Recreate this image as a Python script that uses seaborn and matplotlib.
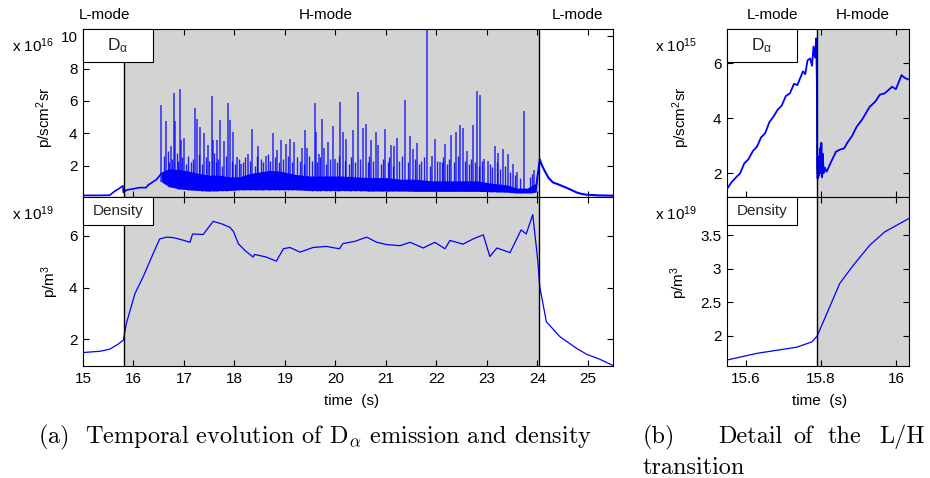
import numpy as np
import pandas as pd
import matplotlib
matplotlib.use("Agg")
import matplotlib.pyplot as plt
from matplotlib.patches import Rectangle
import seaborn as sns

# ---------------- data ----------------
# Transition times (s)
t_LH = 15.81
t_HL = 24.04
t_LH_zoom = 15.789

# (a) D-alpha, x1e16 p/scm^2sr : L-mode and early H-mode trace
pre_t = [15.00, 15.30, 15.53, 15.63, 15.72, 15.79, 15.80, 15.86, 16.00, 16.12, 16.25, 16.29, 16.46, 16.55]
pre_v = [0.15, 0.15, 0.16, 0.41, 0.58, 0.74, 0.33, 0.48, 0.56, 0.63, 0.63, 0.79, 1.14, 1.50]

# dense ELM activity envelope
band_t = [16.55, 16.70, 16.90, 17.10, 17.30, 17.50, 17.70, 17.90, 18.10, 18.30, 18.50, 18.70, 18.90,
          19.20, 19.50, 19.80, 20.10, 20.40, 20.70, 21.00, 21.30, 21.60, 21.90, 22.20, 22.50, 22.80,
          23.10, 23.40, 23.60, 23.80, 23.97]
band_lo = [1.00, 0.70, 0.55, 0.50, 0.45, 0.42, 0.45, 0.45, 0.50, 0.50, 0.50, 0.50, 0.50,
           0.50, 0.45, 0.45, 0.45, 0.45, 0.42, 0.42, 0.42, 0.40, 0.40, 0.40, 0.40, 0.40,
           0.38, 0.35, 0.30, 0.30, 0.35]
band_hi = [1.60, 1.80, 1.75, 1.65, 1.50, 1.40, 1.40, 1.30, 1.30, 1.50, 1.60, 1.70, 1.65,
           1.45, 1.35, 1.35, 1.35, 1.30, 1.25, 1.25, 1.15, 1.15, 1.05, 1.05, 1.05, 1.05,
           0.90, 0.80, 0.60, 0.60, 0.90]

# large ELM spikes (time, peak)
elm_t = [16.54, 16.64, 16.74, 16.80, 16.82, 16.92, 16.94, 17.00, 17.21, 17.26, 17.32, 17.40, 17.47,
         17.55, 17.57, 17.66, 17.71, 17.79, 17.87, 17.91, 17.97, 18.05, 18.13, 18.27, 18.35, 18.47,
         18.62, 18.76, 18.84, 18.93, 19.03, 19.11, 19.19, 19.34, 19.40, 19.44, 19.59, 19.61, 19.67,
         19.73, 19.78, 19.85, 19.96, 20.00, 20.10, 20.15, 20.22, 20.35, 20.44, 20.55, 20.60, 20.70,
         20.80, 20.85, 20.99, 21.10, 21.17, 21.23, 21.38, 21.48, 21.53, 21.61, 21.82, 21.92, 21.97,
         22.07, 22.17, 22.30, 22.39, 22.47, 22.52, 22.60, 22.72, 22.80, 22.87, 22.95, 23.02, 23.16,
         23.23, 23.33, 23.42, 23.51, 23.60, 23.74, 23.93]
elm_v = [5.77, 4.74, 3.19, 6.49, 4.74, 6.75, 3.60, 3.70, 5.56, 4.90, 4.39, 4.00, 3.30,
         6.32, 3.60, 3.60, 4.84, 3.50, 5.87, 4.84, 4.10, 2.50, 2.10, 2.70, 4.26, 3.19,
         2.60, 4.02, 2.95, 3.55, 3.36, 3.65, 3.45, 3.10, 4.18, 3.10, 5.87, 4.06, 2.70,
         4.90, 3.10, 3.45, 4.47, 2.40, 5.95, 4.10, 3.65, 4.18, 6.55, 4.30, 4.59, 3.55,
         4.10, 3.30, 4.26, 3.30, 3.20, 3.70, 6.07, 3.85, 3.00, 3.40, 10.40, 2.60, 3.65,
         2.20, 3.36, 3.90, 4.08, 4.53, 4.30, 2.90, 4.53, 6.59, 6.38, 2.40, 2.30, 3.19,
         2.80, 3.00, 2.70, 2.10, 1.60, 5.35, 1.70]

# smaller ELM spikes (time, peak)
small_t = [16.60, 16.68, 16.71, 16.77, 16.86, 16.89, 16.97, 17.04, 17.08, 17.13, 17.17, 17.29, 17.36,
           17.44, 17.50, 17.60, 17.63, 17.68, 17.75, 17.83, 17.95, 18.01, 18.09, 18.17, 18.21, 18.31,
           18.40, 18.44, 18.52, 18.57, 18.67, 18.71, 18.80, 18.89, 18.97, 19.07, 19.15, 19.24, 19.29,
           19.37, 19.48, 19.53, 19.64, 19.70, 19.82, 19.89, 20.04, 20.07, 20.19, 20.27, 20.31, 20.39,
           20.49, 20.64, 20.67, 20.75, 20.90, 20.94, 21.04, 21.07, 21.14, 21.27, 21.31, 21.43, 21.57,
           21.66, 21.70, 21.75, 21.87, 22.02, 22.11, 22.13, 22.22, 22.26, 22.35, 22.43, 22.56, 22.64,
           22.68, 22.76, 22.84, 22.91, 23.06, 23.11, 23.20, 23.27, 23.37, 23.46, 23.55, 23.66, 23.85, 23.89]
small_v = [2.6, 2.9, 2.2, 2.4, 2.8, 2.3, 2.5, 2.1, 2.6, 2.2, 2.4, 2.7, 2.1,
           2.5, 2.3, 2.8, 2.2, 2.4, 2.0, 2.6, 2.3, 2.1, 2.4, 2.2, 2.5, 2.3,
           2.0, 2.6, 2.4, 2.2, 2.7, 2.3, 2.5, 2.2, 2.4, 2.6, 2.2, 2.5, 2.3,
           2.1, 2.6, 2.3, 2.2, 2.5, 2.1, 2.4, 2.2, 2.6, 2.3, 2.1, 2.5, 2.2,
           2.4, 2.2, 2.6, 2.3, 2.1, 2.4, 2.2, 2.5, 2.0, 2.3, 2.6, 2.2, 2.4,
           2.1, 2.3, 2.5, 2.0, 2.3, 2.2, 2.5, 2.1, 2.4, 2.2, 2.6, 2.3, 2.1,
           2.4, 2.2, 2.0, 2.3, 2.1, 1.9, 2.2, 1.8, 2.0, 1.6, 1.4, 1.2, 1.3, 1.5]

# back-transition and L-mode decay
post_t = [23.97, 24.00, 24.05, 24.10, 24.15, 24.22, 24.31, 24.40, 24.50, 24.58, 24.68, 24.78, 24.88, 24.98, 25.20, 25.50]
post_v = [0.40, 1.20, 2.37, 1.95, 1.65, 1.25, 0.95, 0.85, 0.72, 0.62, 0.48, 0.33, 0.24, 0.19, 0.15, 0.13]

# (a) density, x1e19 p/m^3
dens_t = [15.00, 15.34, 15.53, 15.70, 15.80, 15.86, 16.03, 16.19, 16.36, 16.52, 16.66, 16.79, 16.95,
          17.12, 17.17, 17.38, 17.58, 17.75, 17.91, 17.98, 18.08, 18.21, 18.37, 18.40, 18.63, 18.83,
          18.97, 19.10, 19.30, 19.56, 19.82, 20.08, 20.15, 20.39, 20.62, 20.82, 21.02, 21.28, 21.48,
          21.74, 21.97, 22.17, 22.27, 22.53, 22.73, 22.93, 23.06, 23.20, 23.46, 23.68, 23.78, 23.91,
          24.01, 24.05, 24.18, 24.45, 24.78, 24.98, 25.24, 25.50]
dens_v = [1.49, 1.54, 1.62, 1.82, 1.97, 2.62, 3.77, 4.41, 5.18, 5.88, 5.95, 5.93, 5.85,
          5.75, 6.07, 6.05, 6.56, 6.46, 6.33, 6.17, 5.69, 5.43, 5.18, 5.28, 5.18, 5.02,
          5.50, 5.55, 5.37, 5.55, 5.59, 5.50, 5.70, 5.79, 5.95, 5.75, 5.66, 5.62, 5.75,
          5.53, 5.75, 5.50, 5.82, 5.68, 5.88, 6.04, 5.20, 5.53, 5.35, 6.23, 6.07, 6.82,
          5.05, 4.02, 2.68, 2.10, 1.65, 1.42, 1.23, 0.99]

# (b) D-alpha detail, x1e15 p/scm^2sr
zda_t = [15.550, 15.560, 15.570, 15.584, 15.595, 15.606, 15.618, 15.629, 15.640, 15.651, 15.662,
         15.673, 15.684, 15.695, 15.706, 15.717, 15.728, 15.737, 15.744, 15.752, 15.758, 15.764,
         15.771, 15.776, 15.780, 15.784, 15.787, 15.789, 15.7895, 15.791, 15.793, 15.795, 15.797,
         15.799, 15.801, 15.803, 15.805, 15.807, 15.810, 15.815, 15.825, 15.840, 15.850, 15.862,
         15.870, 15.883, 15.895, 15.910, 15.930, 15.945, 15.957, 15.970, 15.990, 16.000, 16.015,
         16.025, 16.035]
zda_v = [1.44, 1.65, 1.80, 1.99, 2.35, 2.50, 2.80, 2.96, 3.30, 3.45, 3.85,
         4.05, 4.30, 4.45, 4.80, 4.90, 5.25, 5.20, 5.44, 5.70, 5.60, 6.10,
         6.17, 5.90, 6.60, 6.20, 6.90, 5.30, 2.20, 1.80, 2.60, 1.90, 2.90,
         2.00, 3.10, 1.85, 2.70, 2.00, 2.20, 2.05, 2.35, 2.78, 2.85, 2.90,
         3.10, 3.35, 3.68, 3.95, 4.41, 4.60, 4.85, 4.90, 5.14, 5.05, 5.56,
         5.45, 5.40]

# (b) density detail, x1e19 p/m^3
zde_t = [15.550, 15.630, 15.735, 15.776, 15.790, 15.850, 15.886, 15.930, 15.970, 16.035]
zde_v = [1.64, 1.74, 1.83, 1.91, 2.00, 2.78, 3.05, 3.35, 3.55, 3.75]

# tick labels
xt_a = [15, 16, 17, 18, 19, 20, 21, 22, 23, 24, 25]
yt_a_top = [2, 4, 6, 8, 10]
yt_a_bot = [2, 4, 6]
xt_b = [15.6, 15.8, 16.0]
xt_b_labels = ["15.6", "15.8", "16"]
yt_b_top = [2, 4, 6]
yt_b_bot = [2, 2.5, 3, 3.5]
yt_b_bot_labels = ["2", "2.5", "3", "3.5"]

# ---------------- style ----------------
sns.set_theme(style="ticks")
plt.rcParams["font.family"] = ["Liberation Sans", "DejaVu Sans"]
plt.rcParams["mathtext.fontset"] = "custom"
plt.rcParams["mathtext.rm"] = "Liberation Sans"
plt.rcParams["mathtext.it"] = "Liberation Sans"
plt.rcParams["mathtext.bf"] = "Liberation Sans:bold"
plt.rcParams["mathtext.sf"] = "Liberation Sans"

W, H = 930, 478
fig = plt.figure(figsize=(W / 100, H / 100), dpi=100)

def axrect(x0, y0, x1, y1):
    return [x0 / W, 1 - y1 / H, (x1 - x0) / W, (y1 - y0) / H]

def fx(px):
    return px / W

def fy(py):
    return 1 - py / H

SHADE = "#d3d3d3"
BLUE = "#0000ff"
FS = 11

ax1 = fig.add_axes(axrect(83, 29, 613, 197))
ax2 = fig.add_axes(axrect(83, 197, 613, 366))
ax3 = fig.add_axes(axrect(727, 29, 909, 197))
ax4 = fig.add_axes(axrect(727, 197, 909, 366))

for ax in (ax1, ax2, ax3, ax4):
    ax.tick_params(direction="in", top=True, right=True, length=4, width=0.8,
                   labelsize=FS, pad=4, colors="black")
    for s in ax.spines.values():
        s.set_linewidth(0.8)
        s.set_color("black")
    ax.set_facecolor("white")

def label_box(ax, text, ytop_frac, fs):
    wfrac = 70 / (ax.get_position().width * W)
    ax.add_patch(Rectangle((0, ytop_frac), wfrac, 1 - ytop_frac, transform=ax.transAxes,
                           facecolor="white", edgecolor="black", lw=0.8, zorder=6, clip_on=False))
    ax.text(wfrac / 2, (1 + ytop_frac) / 2, text, transform=ax.transAxes, ha="center",
            va="center", fontsize=fs, zorder=7)

DA = r"D$_{\mathrm{α}}$"

# ---- (a) top: D-alpha ----
ax1.axvspan(t_LH, t_HL, color=SHADE, lw=0, zorder=0)
sns.lineplot(x=pre_t, y=pre_v, ax=ax1, color=BLUE, lw=1.2, estimator=None, sort=False, zorder=3)
ax1.fill_between(band_t, band_lo, band_hi, color=BLUE, lw=0, zorder=3)
ax1.vlines(small_t, np.interp(small_t, band_t, band_lo), small_v, color=BLUE, lw=1.0, alpha=0.85, zorder=3)
ax1.vlines(elm_t, np.interp(elm_t, band_t, band_lo), elm_v, color=BLUE, lw=1.1, alpha=0.8, zorder=3)
sns.lineplot(x=post_t, y=post_v, ax=ax1, color=BLUE, lw=1.5, estimator=None, sort=False, zorder=3)
ax1.axvline(t_LH, color="black", lw=1, zorder=4)
ax1.axvline(t_HL, color="black", lw=1, zorder=4)
ax1.set_xlim(15, 25.5)
ax1.set_ylim(0.05, 10.45)
ax1.set_xticks(xt_a)
ax1.set_yticks(yt_a_top)
ax1.tick_params(labelbottom=False)
ax1.set_xlabel("")
ax1.set_ylabel("")
label_box(ax1, DA, (197 - 62) / 168, 12.5)

# ---- (a) bottom: density ----
ax2.axvspan(t_LH, t_HL, color=SHADE, lw=0, zorder=0)
sns.lineplot(x=dens_t, y=dens_v, ax=ax2, color=BLUE, lw=0.9, estimator=None, sort=False, zorder=3)
ax2.axvline(t_LH, color="black", lw=1, zorder=4)
ax2.axvline(t_HL, color="black", lw=1, zorder=4)
ax2.set_xlim(15, 25.5)
ax2.set_ylim(0.97, 7.5)
ax2.set_xticks(xt_a)
ax2.set_xticklabels([str(v) for v in xt_a])
ax2.set_yticks(yt_a_bot)
ax2.set_xlabel("")
ax2.set_ylabel("")
label_box(ax2, "Density", (366 - 225) / 169, FS)

# ---- (b) top: D-alpha detail ----
ax3.axvspan(t_LH_zoom, 16.1, color=SHADE, lw=0, zorder=0)
sns.lineplot(x=zda_t, y=zda_v, ax=ax3, color=BLUE, lw=1.3, estimator=None, sort=False, zorder=3)
ax3.axvline(t_LH_zoom, color="black", lw=1, zorder=4)
ax3.set_xlim(15.549, 16.035)
ax3.set_ylim(1.13, 7.24)
ax3.set_xticks(xt_b)
ax3.set_yticks(yt_b_top)
ax3.tick_params(labelbottom=False)
ax3.set_xlabel("")
ax3.set_ylabel("")
label_box(ax3, DA, (197 - 62) / 168, 12.5)

# ---- (b) bottom: density detail ----
ax4.axvspan(t_LH_zoom, 16.1, color=SHADE, lw=0, zorder=0)
sns.lineplot(x=zde_t, y=zde_v, ax=ax4, color=BLUE, lw=0.9, estimator=None, sort=False, zorder=3)
ax4.axvline(t_LH_zoom, color="black", lw=1, zorder=4)
ax4.set_xlim(15.549, 16.035)
ax4.set_ylim(1.55, 4.07)
ax4.set_xticks(xt_b)
ax4.set_xticklabels(xt_b_labels)
ax4.set_yticks(yt_b_bot)
ax4.set_yticklabels(yt_b_bot_labels)
ax4.set_xlabel("")
ax4.set_ylabel("")
label_box(ax4, "Density", (366 - 225) / 169, FS)

# ---- figure texts ----
tk = dict(fontsize=FS, color="black")
fig.text(fx(104), fy(15), "L-mode", ha="center", va="center", **tk)
fig.text(fx(326), fy(15), "H-mode", ha="center", va="center", **tk)
fig.text(fx(577), fy(15), "L-mode", ha="center", va="center", **tk)
fig.text(fx(772), fy(15), "L-mode", ha="center", va="center", **tk)
fig.text(fx(863), fy(15), "H-mode", ha="center", va="center", **tk)

fig.text(fx(12), fy(46), r"x 10$^{16}$", ha="left", va="center", **tk)
fig.text(fx(12), fy(214), r"x 10$^{19}$", ha="left", va="center", **tk)
fig.text(fx(655), fy(46), r"x 10$^{15}$", ha="left", va="center", **tk)
fig.text(fx(655), fy(214), r"x 10$^{19}$", ha="left", va="center", **tk)

fig.text(fx(45), fy(117), r"p/scm$^2$sr", rotation=90, ha="center", va="center", **tk)
fig.text(fx(50), fy(282), r"p/m$^3$", rotation=90, ha="center", va="center", **tk)
fig.text(fx(681), fy(117), r"p/scm$^2$sr", rotation=90, ha="center", va="center", **tk)
fig.text(fx(679), fy(283), r"p/m$^3$", rotation=90, ha="center", va="center", **tk)

fig.text(fx(352), fy(401), "time  (s)", ha="center", va="center", **tk)
fig.text(fx(820), fy(401), "time  (s)", ha="center", va="center", **tk)

cap = dict(fontsize=17.5, family="cmr10", math_fontfamily="cm", color="black")
fig.text(fx(38), fy(443), r"(a)  Temporal evolution of D$_\alpha$ emission and density",
         ha="left", va="baseline", **cap)
fig.text(fx(643), fy(443), "(b)", ha="left", va="baseline", **cap)
fig.text(fx(718), fy(443), "Detail", ha="left", va="baseline", **cap)
fig.text(fx(793), fy(443), "of", ha="left", va="baseline", **cap)
fig.text(fx(828), fy(443), "the", ha="left", va="baseline", **cap)
fig.text(fx(925), fy(443), "L/H", ha="right", va="baseline", **cap)
fig.text(fx(643), fy(474), "transition", ha="left", va="baseline", **cap)

fig.savefig("out.png", dpi=100, facecolor="white")
